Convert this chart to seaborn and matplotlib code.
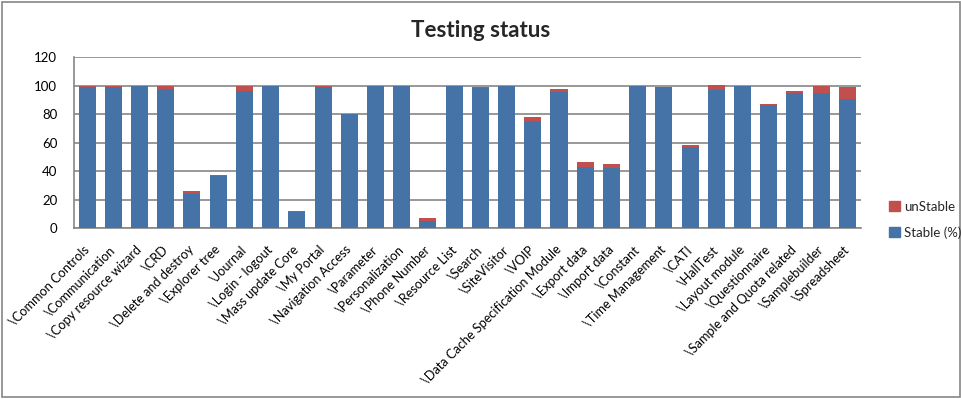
import matplotlib
matplotlib.use("Agg")
import matplotlib.pyplot as plt
import matplotlib.patches as mpatches
import pandas as pd
import seaborn as sns

# test areas and share of stable / unstable tests (%)
areas = [
    "\\Common Controls", "\\Communication", "\\Copy resource wizard", "\\CRD",
    "\\Delete and destroy", "\\Explorer tree", "\\Journal", "\\Login - logout",
    "\\Mass update Core", "\\My Portal", "\\Navigation Access", "\\Parameter",
    "\\Personalization", "\\Phone Number", "\\Resource List", "\\Search",
    "\\SiteVisitor", "\\VOIP", "\\Data Cache Specification Module", "\\Export data",
    "\\Import data", "\\Constant", "\\Time Management", "\\CATI", "\\HallTest",
    "\\Layout module", "\\Questionnaire", "\\Sample and Quota related",
    "\\Samplebuilder", "\\Spreadsheet",
]
stable = [99, 99, 99.6, 97.5, 24.3, 37, 96.4, 100, 11.5, 99, 80, 100,
          100, 5, 99.6, 98.5, 100, 75.3, 95.7, 43, 42.6, 100, 99.2, 57,
          97.3, 100, 86.5, 95, 95, 90.8]
unstable = [1, 1, 0.5, 2.5, 1.9, 0.7, 3.8, 0, 0.9, 1, 0, 0,
            0, 2.2, 0.6, 0.7, 0, 2.8, 2.1, 3.5, 2.5, 0, 0, 1.5,
            3, 0, 1, 1.4, 5.2, 8.4]

df = pd.DataFrame({"area": areas, "stable": stable, "unstable": unstable})
df["total"] = df["stable"] + df["unstable"]

blue = "#4572A7"
red = "#C0504D"
grid_col = "#868686"

sns.set_style("white")
plt.rcParams["font.family"] = ["Lato", "DejaVu Sans"]

fig = plt.figure(figsize=(9.62, 3.99), dpi=100)
ax = fig.add_axes([0.0769, 0.4278, 0.8176, 0.4286])

# stacked bars: total in red behind, stable in blue on top
sns.barplot(data=df, x="area", y="total", color=red, width=0.65,
            saturation=1, linewidth=0, ax=ax, zorder=2)
sns.barplot(data=df, x="area", y="stable", color=blue, width=0.65,
            saturation=1, linewidth=0, ax=ax, zorder=3)

ax.set_ylim(0, 120)
ax.set_xlim(-0.5, len(areas) - 0.5)
ax.set_yticks(range(0, 121, 20))
ax.yaxis.grid(True, color=grid_col, linewidth=1.2, zorder=0)
ax.set_axisbelow(True)
ax.set_xlabel("")
ax.set_ylabel("")

for s in ["top", "right"]:
    ax.spines[s].set_visible(False)
for s in ["left", "bottom"]:
    ax.spines[s].set_color(grid_col)
    ax.spines[s].set_linewidth(1.2)

ax.tick_params(axis="both", length=0, labelsize=9.5, colors="black")
ax.tick_params(axis="y", pad=12)
ax.set_xticks(range(len(areas)))
ax.set_xticklabels(areas, rotation=45, ha="right", va="center",
                   rotation_mode="anchor", fontsize=9.2)
ax.tick_params(axis="x", pad=14)

handles = [mpatches.Patch(color=red, label="unStable"),
           mpatches.Patch(color=blue, label="Stable (%)")]
fig.legend(handles=handles, loc="center left", bbox_to_anchor=(0.912, 0.449),
           frameon=False, fontsize=9.5, handlelength=0.8, handleheight=0.8,
           handletextpad=0.3, labelspacing=1.0)

fig.text(0.5, 0.923, "Testing status", ha="center", va="center",
         fontsize=16, fontweight="bold")

# chart area border
fig.patches.append(mpatches.Rectangle((0.002, 0.005), 0.996, 0.99,
                                      transform=fig.transFigure, fill=False,
                                      edgecolor=grid_col, linewidth=1.2))

fig.savefig("out.png", dpi=100)
